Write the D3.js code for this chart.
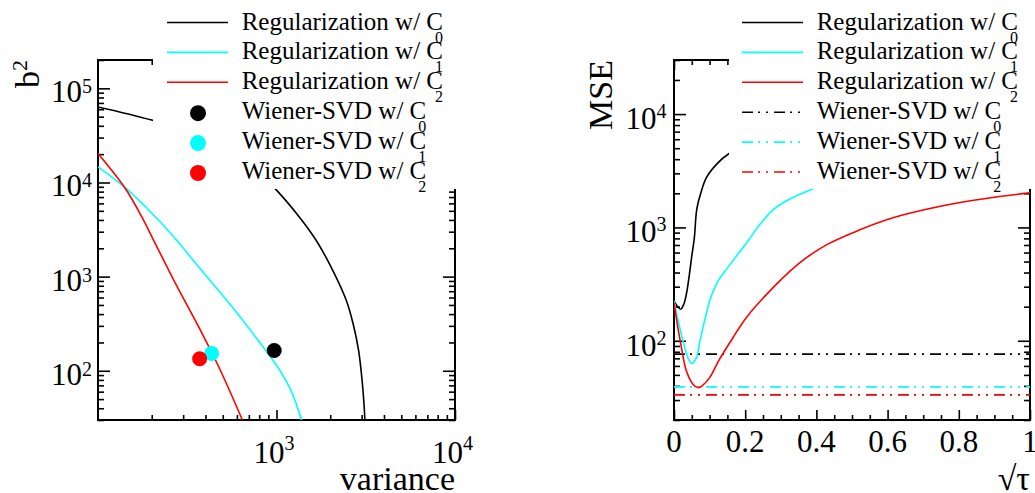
<!DOCTYPE html>
<html><head><meta charset="utf-8">
<script src="https://cdn.jsdelivr.net/npm/d3@7"></script>
<style>
body{margin:0;background:#fff}
svg{display:block}
text{font-family:"Liberation Serif","Times New Roman",serif;fill:#000}
</style>
</head><body>
<svg id="c" width="1035" height="493" font-family="Liberation Serif, Times New Roman, serif"></svg>
<script>
// ---------------- data ----------------
const seriesColors = ["#000000", "#00ffff", "#ff0000"];
const seriesSubs = ["0", "1", "2"];
const regLabel = "Regularization w/ C";
const wienerLabel = "Wiener-SVD w/ C";

// Left panel: b^2 vs variance (regularization scans)
const biasVarC0 = [[100,63500],[200,46000],[400,30000],[700,16000],[1000,8300],[1342,4300],[1667,2432],[2066,1167],[2459,560],[2701,303],[2883,164.5],[3017,78.9],[3095,42.8],[3128,30]];
const biasVarC1 = [[100,14650],[143,8690],[210,4300],[276,2432],[367,1265],[565,475],[871,164],[1045,100.7],[1205,61.8],[1382,30]];
const biasVarC2 = [[100,20370],[142,8690],[176,4300],[205,2432],[272,843],[367,291],[476,109],[644,30]];
// Wiener-SVD points
const wienerVariance = [971, 433, 371];
const wienerBias2 = [164, 153, 134];

// Right panel: MSE vs sqrt(tau)
const mseC0 = [[0,225],[0.01,200],[0.019,190],[0.028,212],[0.035,260],[0.043,380],[0.05,560],[0.057,800],[0.064,1450],[0.075,2000],[0.091,2750],[0.12,3620],[0.153,4440],[0.25,6000],[0.4,7800],[0.6,9000],[0.8,9800],[1,10300]];
const mseC1 = [[0,225],[0.014,140],[0.025,100],[0.039,71],[0.05,63],[0.063,71],[0.073,100],[0.0871,156],[0.1011,230],[0.1152,299],[0.1292,359],[0.148,431],[0.1761,562],[0.2042,731],[0.2416,1065],[0.2781,1430],[0.3166,1718],[0.3772,2104],[0.5,2900],[0.7,3800],[1,4600]];
const mseC2 = [[0,217],[0.011,130],[0.021,87],[0.035,54],[0.053,41.4],[0.068,38.6],[0.081,40.6],[0.1,47.3],[0.128,68.8],[0.166,107],[0.203,160],[0.288,316],[0.353,487],[0.428,702],[0.522,952],[0.615,1215],[0.709,1445],[0.803,1659],[0.895,1836],[1,2020]];
const wienerMSE = [76.2, 39.2, 33.3];

// ticks
const leftXMajor = [1000, 10000];
const leftYMajor = [100, 1000, 10000, 100000];
const rightYMajor = [100, 1000, 10000];
const rightXMajor = [0, 0.2, 0.4, 0.6, 0.8, 1];
const rightXLabels = ["0", "0.2", "0.4", "0.6", "0.8", "1"];

// ---------------- layout ----------------
const svg = d3.select("#c");
const LP = {x0: 98, x1: 455, y0: 60, y1: 420};
const RP = {x0: 674, x1: 1030, y0: 60, y1: 420};

const xL = d3.scaleLog().domain([100, 10000]).range([LP.x0, LP.x1]);
const yL = d3.scaleLog().domain([30, 200000]).range([LP.y1, LP.y0]);
const xR = d3.scaleLinear().domain([0, 1]).range([RP.x0, RP.x1]);
const yR = d3.scaleLog().domain([20, 30000]).range([RP.y1, RP.y0]);

function logMinors(lo, hi) {
  const out = [];
  for (let e = Math.floor(Math.log10(lo)); e <= Math.ceil(Math.log10(hi)); e++) {
    for (let k = 2; k <= 9; k++) {
      const v = k * Math.pow(10, e);
      if (v >= lo * 0.999 && v <= hi * 1.001) out.push(v);
    }
  }
  return out;
}

const defs = svg.append("defs");
defs.append("clipPath").attr("id", "clipL").append("rect")
  .attr("x", LP.x0).attr("y", LP.y0).attr("width", LP.x1 - LP.x0).attr("height", LP.y1 - LP.y0);
defs.append("clipPath").attr("id", "clipR").append("rect")
  .attr("x", RP.x0).attr("y", RP.y0).attr("width", RP.x1 - RP.x0).attr("height", RP.y1 - RP.y0);

function drawTicks(P, xs, ys, xMaj, xMin, yMaj, yMin) {
  const g = svg.append("g");
  const tw = 1.6;
  const mk = (axisFn, scale, vals, len, tx) => {
    const a = g.append("g").attr("transform", tx)
      .call(axisFn(scale).tickValues(vals).tickSizeInner(len).tickSizeOuter(0).tickFormat(""));
    a.select(".domain").remove();
    a.selectAll("line").attr("stroke", "#000").attr("stroke-width", tw);
  };
  mk(d3.axisBottom, xs, xMaj, -10, `translate(0,${P.y1})`);
  mk(d3.axisBottom, xs, xMin, -5, `translate(0,${P.y1})`);
  mk(d3.axisTop, xs, xMaj, -10, `translate(0,${P.y0})`);
  mk(d3.axisTop, xs, xMin, -5, `translate(0,${P.y0})`);
  mk(d3.axisLeft, ys, yMaj, -12, `translate(${P.x0},0)`);
  mk(d3.axisLeft, ys, yMin, -6, `translate(${P.x0},0)`);
  mk(d3.axisRight, ys, yMaj, -12, `translate(${P.x1},0)`);
  mk(d3.axisRight, ys, yMin, -6, `translate(${P.x1},0)`);
  svg.append("rect").attr("x", P.x0).attr("y", P.y0)
    .attr("width", P.x1 - P.x0).attr("height", P.y1 - P.y0)
    .attr("fill", "none").attr("stroke", "#000").attr("stroke-width", 2);
}

// ---------------- left panel ----------------
drawTicks(LP, xL, yL, leftXMajor, logMinors(100, 10000), leftYMajor, logMinors(30, 200000));

const lineL = d3.line().x(d => xL(d[0])).y(d => yL(d[1])).curve(d3.curveCatmullRom.alpha(0.5));
const gL = svg.append("g").attr("clip-path", "url(#clipL)");
[biasVarC0, biasVarC1, biasVarC2].forEach((s, i) => {
  gL.append("path").datum(s).attr("d", lineL).attr("fill", "none")
    .attr("stroke", seriesColors[i]).attr("stroke-width", 1.6);
});
wienerVariance.forEach((v, i) => {
  gL.append("circle").attr("cx", xL(v)).attr("cy", yL(wienerBias2[i])).attr("r", 7.5)
    .attr("fill", seriesColors[i]);
});

leftYMajor.forEach(v => {
  const t = yL(v), e = Math.round(Math.log10(v));
  svg.append("text").attr("x", LP.x0 - 16).attr("y", t + 14).attr("text-anchor", "end")
    .attr("font-size", 31).text("10");
  svg.append("text").attr("x", LP.x0 - 16).attr("y", t + 5).attr("font-size", 20).text(e);
});
leftXMajor.forEach(v => {
  const t = xL(v), e = Math.round(Math.log10(v));
  svg.append("text").attr("x", t + 8).attr("y", 463).attr("text-anchor", "end")
    .attr("font-size", 31).text("10");
  svg.append("text").attr("x", t + 8).attr("y", 450).attr("font-size", 20).text(e);
});
svg.append("text").attr("x", LP.x1).attr("y", 490).attr("text-anchor", "end")
  .attr("font-size", 34).text("variance");
svg.append("text").attr("transform", `translate(39,${LP.y0}) rotate(-90)`).attr("text-anchor", "end")
  .attr("font-size", 34).text("b")
  .append("tspan").attr("dy", -12).attr("font-size", 22).text("2");

// ---------------- right panel ----------------
drawTicks(RP, xR, yR, rightXMajor, d3.range(0.05, 1, 0.05).filter((d, i) => (i + 1) % 4 !== 0), rightYMajor, logMinors(20, 30000));

const lineR = d3.line().x(d => xR(d[0])).y(d => yR(d[1])).curve(d3.curveCatmullRom.alpha(0.5));
const gR = svg.append("g").attr("clip-path", "url(#clipR)");
const dashDot = "11,5,2,6,2,6";
wienerMSE.forEach((m, i) => {
  gR.append("path").datum([[0, m], [1, m]]).attr("d", lineR).attr("fill", "none")
    .attr("stroke", seriesColors[i]).attr("stroke-width", 1.6).attr("stroke-dasharray", dashDot);
});
[mseC0, mseC1, mseC2].forEach((s, i) => {
  gR.append("path").datum(s).attr("d", lineR).attr("fill", "none")
    .attr("stroke", seriesColors[i]).attr("stroke-width", 1.6);
});

rightYMajor.forEach(v => {
  const t = yR(v), e = Math.round(Math.log10(v));
  svg.append("text").attr("x", RP.x0 - 17.5).attr("y", t + 15).attr("text-anchor", "end")
    .attr("font-size", 31).text("10");
  svg.append("text").attr("x", RP.x0 - 17.5).attr("y", t + 4).attr("font-size", 20).text(e);
});
rightXMajor.forEach((v, i) => {
  svg.append("text").attr("x", xR(v)).attr("y", 452).attr("text-anchor", "middle")
    .attr("font-size", 31).text(rightXLabels[i]);
});
svg.append("text").attr("x", RP.x1).attr("y", 490).attr("text-anchor", "end")
  .attr("font-size", 34).text("\u221A\u03C4");
svg.append("text").attr("transform", `translate(612,${RP.y0}) rotate(-90)`).attr("text-anchor", "end")
  .attr("font-size", 34).text("MSE");

// ---------------- legends ----------------
const baselines = [29.5, 59.4, 89.3, 119.2, 149.1, 179];
function legendText(x, y, label, sub) {
  const t = svg.append("text").attr("x", x).attr("y", y).attr("font-size", 25).text(label);
  const w = t.node().getComputedTextLength();
  svg.append("text").attr("x", x + w - 8).attr("y", y + 13).attr("font-size", 16).text(sub);
}
svg.append("rect").attr("x", 153).attr("y", 0).attr("width", 315).attr("height", 189).attr("fill", "#fff");
seriesColors.forEach((c, i) => {
  const y = baselines[i];
  svg.append("line").attr("x1", 167).attr("x2", 228).attr("y1", y - 7).attr("y2", y - 7)
    .attr("stroke", c).attr("stroke-width", 1.6);
  legendText(241.7, y, regLabel, seriesSubs[i]);
});
seriesColors.forEach((c, i) => {
  const y = baselines[i + 3];
  svg.append("circle").attr("cx", 198).attr("cy", y - 6).attr("r", 8).attr("fill", c);
  legendText(241.7, y, wienerLabel, seriesSubs[i]);
});
svg.append("rect").attr("x", 729).attr("y", 0).attr("width", 306).attr("height", 189).attr("fill", "#fff");
seriesColors.forEach((c, i) => {
  const y = baselines[i];
  svg.append("line").attr("x1", 742).attr("x2", 803).attr("y1", y - 7).attr("y2", y - 7)
    .attr("stroke", c).attr("stroke-width", 1.6);
  legendText(816.7, y, regLabel, seriesSubs[i]);
});
seriesColors.forEach((c, i) => {
  const y = baselines[i + 3];
  svg.append("line").attr("x1", 742).attr("x2", 803).attr("y1", y - 7).attr("y2", y - 7)
    .attr("stroke", c).attr("stroke-width", 1.6).attr("stroke-dasharray", dashDot);
  legendText(816.7, y, wienerLabel, seriesSubs[i]);
});
</script>
</body></html>
